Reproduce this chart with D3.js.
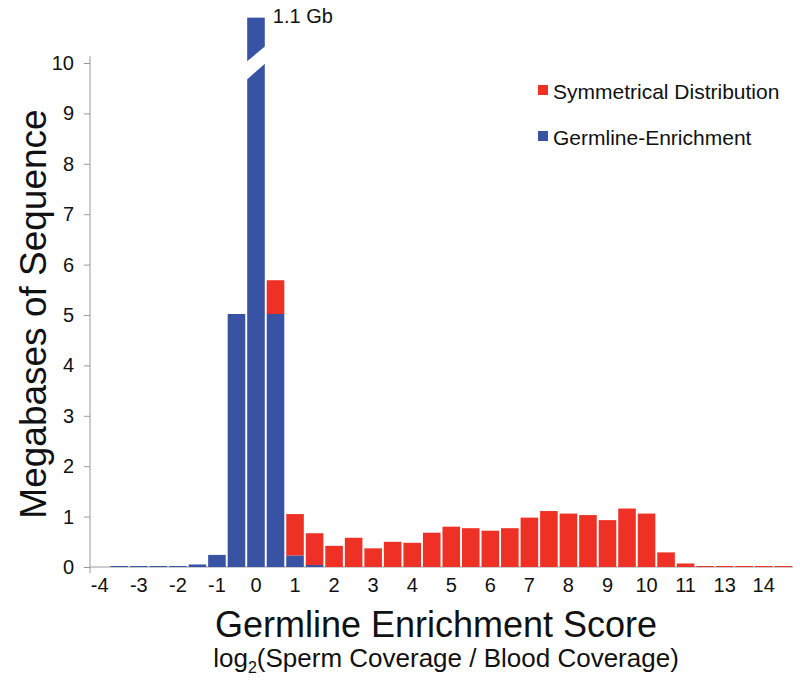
<!DOCTYPE html>
<html>
<head>
<meta charset="utf-8">
<script src="https://cdn.jsdelivr.net/npm/d3@7"></script>
<style>
  html, body { margin: 0; padding: 0; background: #fff; }
  svg { display: block; font-family: "Liberation Sans", Arial, Helvetica, sans-serif; }
</style>
</head>
<body>
<svg id="chart" width="800" height="685"></svg>
<script>
// ---- data (Megabases of sequence per half-unit score bin) ----
const bins = [-4, -3.5, -3, -2.5, -2, -1.5, -1, -0.5, 0, 0.5, 1, 1.5, 2, 2.5, 3, 3.5, 4, 4.5,
              5, 5.5, 6, 6.5, 7, 7.5, 8, 8.5, 9, 9.5, 10, 10.5, 11, 11.5, 12, 12.5, 13, 13.5];
const germlineValues = [0, 0.02, 0.02, 0.02, 0.02, 0.05, 0.24, 5.02, 1100, 5.02, 0.23, 0.04,
                        0, 0, 0, 0, 0, 0, 0, 0, 0, 0, 0, 0, 0, 0, 0, 0, 0, 0, 0, 0, 0, 0, 0, 0];
const symmetricalValues = [0, 0, 0, 0, 0, 0, 0, 0, 0, 0.67, 0.82, 0.63, 0.42, 0.58, 0.37, 0.50, 0.48, 0.68,
                           0.80, 0.77, 0.72, 0.77, 0.98, 1.11, 1.06, 1.03, 0.93, 1.16, 1.06, 0.29, 0.07, 0.02,
                           0.02, 0.02, 0.02, 0.02];
const tickBins = [-4, -3, -2, -1, 0, 1, 2, 3, 4, 5, 6, 7, 8, 9, 10, 11, 12, 13];
const tickLabels = ["-4", "-3", "-2", "-1", "0", "1", "2", "3", "4", "5", "6", "7", "8", "9", "10", "11", "13", "14"];
const yTicks = [0, 1, 2, 3, 4, 5, 6, 7, 8, 9, 10];
const seriesNames = ["Symmetrical Distribution", "Germline-Enrichment"];
const brokenLabel = "1.1 Gb";
const displayCap = 10.9;   // broken bar drawn up to this value

const colors = { red: "#ee3124", blue: "#3953a4", axis: "#9a9a9a" };

const svg = d3.select("#chart");
const x = d3.scaleBand().domain(bins).range([90, 793]).paddingInner(0.1).paddingOuter(0.05);
const y = d3.scaleLinear().domain([0, 10]).range([567, 63]);

// x axis baseline
svg.append("line")
  .attr("x1", 90).attr("x2", 793)
  .attr("y1", y(0)).attr("y2", y(0))
  .attr("stroke", colors.axis).attr("stroke-width", 1);

// bars
const data = bins.map((b, i) => ({ bin: b, blue: germlineValues[i], red: symmetricalValues[i] }));
const g = svg.append("g");
data.forEach(d => {
  const bv = Math.min(d.blue, displayCap);
  if (bv > 0) {
    g.append("rect")
      .attr("x", x(d.bin)).attr("width", x.bandwidth())
      .attr("y", y(bv)).attr("height", y(0) - y(bv))
      .attr("fill", colors.blue);
  }
  if (d.red > 0) {
    g.append("rect")
      .attr("x", x(d.bin)).attr("width", x.bandwidth())
      .attr("y", y(bv + d.red)).attr("height", y(bv) - y(bv + d.red))
      .attr("fill", colors.red);
  }
  if (d.blue > displayCap) {
    const x0 = x(d.bin) - 1, x1 = x(d.bin) + x.bandwidth() + 1;
    g.append("polygon")
      .attr("points", [[x0, y(10.02)], [x1, y(10.34)], [x1, y(10.0)], [x0, y(9.66)]].map(p => p.join(",")).join(" "))
      .attr("fill", "#fff");
    svg.append("text")
      .attr("x", x(d.bin) + x.bandwidth() + 8).attr("y", 23)
      .attr("font-size", 20).attr("fill", "#111")
      .text(brokenLabel);
  }
});

// y axis
const yAxis = svg.append("g").attr("transform", "translate(90,0)")
  .call(d3.axisLeft(y).tickValues(yTicks).tickSize(6).tickPadding(10).tickFormat(d3.format("d")));
yAxis.select(".domain").remove();
yAxis.selectAll(".tick line").attr("stroke", colors.axis);
yAxis.selectAll(".tick text").attr("font-size", 20).attr("fill", "#111").attr("font-family", "Liberation Sans, Arial, sans-serif");
svg.append("line")
  .attr("x1", 90).attr("x2", 90)
  .attr("y1", y(10.14)).attr("y2", y(0) + 6)
  .attr("stroke", colors.axis).attr("stroke-width", 1);

// x axis labels
const xAxis = svg.append("g").attr("transform", `translate(0,${y(0)})`)
  .call(d3.axisBottom(x).tickValues(tickBins).tickSize(0).tickPadding(11)
    .tickFormat((d, i) => tickLabels[i]));
xAxis.select(".domain").remove();
xAxis.selectAll(".tick text").attr("font-size", 20).attr("fill", "#111").attr("font-family", "Liberation Sans, Arial, sans-serif");

// axis titles
svg.append("text")
  .attr("x", 436).attr("y", 637)
  .attr("text-anchor", "middle").attr("font-size", 36).attr("fill", "#111")
  .text("Germline Enrichment Score");
const sub = svg.append("text")
  .attr("x", 446).attr("y", 667)
  .attr("text-anchor", "middle").attr("font-size", 26).attr("fill", "#111");
sub.append("tspan").text("log");
sub.append("tspan").attr("font-size", 16).attr("dy", 6).text("2");
sub.append("tspan").attr("dy", -6).text("(Sperm Coverage / Blood Coverage)");

svg.append("text")
  .attr("transform", "translate(46,314) rotate(-90)")
  .attr("text-anchor", "middle").attr("font-size", 37).attr("fill", "#111")
  .text("Megabases of Sequence");

// legend
const legend = svg.append("g");
[[seriesNames[0], colors.red, 99], [seriesNames[1], colors.blue, 145]].forEach(([name, c, by]) => {
  legend.append("rect").attr("x", 538).attr("y", by - 14).attr("width", 10).attr("height", 10).attr("fill", c);
  legend.append("text").attr("x", 553).attr("y", by).attr("font-size", 21).attr("fill", "#111").text(name);
});
</script>
</body>
</html>
